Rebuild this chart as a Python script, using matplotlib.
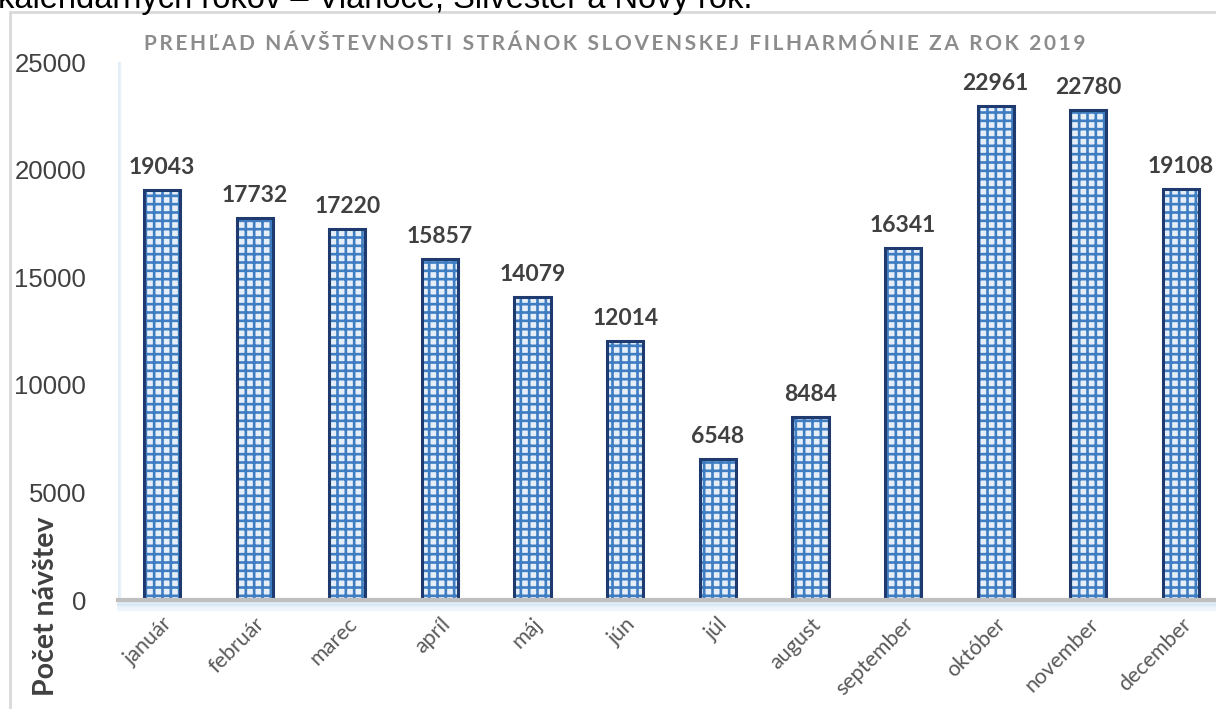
import matplotlib.pyplot as plt
from matplotlib.patches import Rectangle

mesiace = ["január", "február", "marec", "apríl", "máj", "jún", "júl", "august",
           "september", "október", "november", "december"]
navstevy = [19043, 17732, 17220, 15857, 14079, 12014, 6548, 8484, 16341, 22961, 22780, 19108]
y_ticky = [0, 5000, 10000, 15000, 20000, 25000]

nadpis = "PREHĽAD NÁVŠTEVNOSTI STRÁNOK SLOVENSKEJ FILHARMÓNIE ZA ROK 2019"

plt.rcParams["hatch.linewidth"] = 1.9

fig = plt.figure(figsize=(12.16, 7.09), dpi=100)
ax = fig.add_axes([118 / 1216, 109 / 709, 1 - 118 / 1216, (600 - 62) / 709])

x = range(len(mesiace))
# vypln s mriezkou
ax.bar(x, navstevy, width=0.39, color="#E6EFF9", edgecolor="#3F7DC2", hatch="++", linewidth=0, zorder=2)
# tmavy okraj
ax.bar(x, navstevy, width=0.39, fill=False, edgecolor="#1F3A6E", linewidth=2.2, zorder=3)

for i, v in enumerate(navstevy):
    ax.annotate(str(v), (i, v), xytext=(0, 11.5), textcoords="offset points", ha="center", va="baseline",
                fontsize=16.5, fontweight="bold", color="#404040", family=["Lato", "DejaVu Sans"])

ax.set_xlim(-0.475, 11.378)
ax.set_ylim(0, 25000)
ax.set_yticks(y_ticky)
ax.set_yticklabels([str(t) for t in y_ticky], fontsize=18.5, color="#404040", family="Liberation Sans")
ax.set_xticks(list(x))
ax.set_xticklabels(mesiace, rotation=45, ha="right", rotation_mode="anchor", fontsize=15.5,
                   color="#595959", family=["Lato", "DejaVu Sans"])
ax.tick_params(axis="both", length=0)
ax.tick_params(axis="y", pad=23)
ax.tick_params(axis="x", pad=10)

for s in ["top", "right", "left"]:
    ax.spines[s].set_visible(False)
ax.spines["bottom"].set_color("#BFBFBF")
ax.spines["bottom"].set_linewidth(3)
ax.spines["bottom"].set_zorder(4)

# jemny tien pod osou x
for k in range(8):
    ax.axhline(-60 - k * 60, color="#BDD7EE", alpha=0.35 - k * 0.04, linewidth=2, clip_on=False, zorder=1)
# jemny tien pri osi y
for k in range(4):
    ax.axvline(-0.475 + k * 0.008, color="#DDEBF7", alpha=0.5 - k * 0.1, linewidth=2, zorder=1)

# ramcek grafu
fig.patches.append(Rectangle((10 / 1216, -0.1), 1.2, (709 - 12) / 709 + 0.1, transform=fig.transFigure,
                             fill=False, edgecolor="#D9D9D9", linewidth=2))

fig.text(615 / 1216, (709 - 44) / 709, "\u2009".join(nadpis), ha="center", va="center", fontsize=15,
         fontweight="bold", color="#8C8C8C", family=["Lato", "DejaVu Sans"])

fig.text(46 / 1216, (709 - 606) / 709, "Počet návštev", rotation=90, ha="center", va="center",
         fontsize=20.5, fontweight="bold", color="#404040", family=["Lato", "DejaVu Sans"])

fig.text(-0.002, (709 - 8) / 709, "kalendárnych rokov – Vianoce, Silvester a Nový rok.", ha="left",
         va="baseline", fontsize=23.5, color="#000000", family="Liberation Sans")

fig.savefig("out.png", dpi=100)
